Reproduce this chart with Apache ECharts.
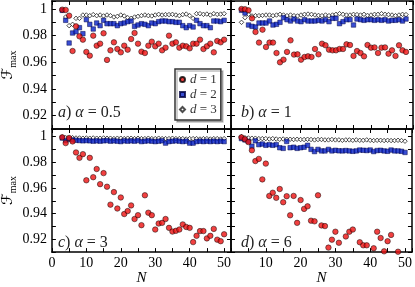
<!DOCTYPE html>
<html><head><meta charset="utf-8">
<script src="https://cdn.jsdelivr.net/npm/echarts@6/dist/echarts.min.js"></script>
<style>html,body{margin:0;padding:0;background:#fff}#c{width:415px;height:287px}</style>
</head><body><div id="c"></div>
<script>
// N values (system size)
const N = [3,4,5,6,7,8,9,10,11,12,13,14,15,16,17,18,19,20,21,22,23,24,25,26,27,28,29,30,31,32,33,34,35,36,37,38,39,40,41,42,43,44,45,46,47,48,49,50];

// panel a) alpha = 0.5
const aD1 = [0.9995,0.9993,0.995,0.9685,0.987,0.9795,0.977,0.9678,0.965,0.980,0.9725,0.974,0.9818,0.9618,0.969,0.975,0.970,0.9675,0.9725,0.9695,0.9775,0.982,0.974,0.968,0.967,0.9725,0.9755,0.972,0.974,0.969,0.971,0.980,0.974,0.975,0.971,0.9725,0.972,0.9705,0.974,0.974,0.977,0.970,0.972,0.974,0.9675,0.976,0.975,0.977];
const aD2 = [0.999,0.9915,0.9745,0.982,0.983,0.986,0.9815,0.992,0.9885,0.985,0.9895,0.9875,0.9915,0.989,0.989,0.989,0.9875,0.989,0.9895,0.9905,0.991,0.987,0.988,0.989,0.9885,0.9875,0.9895,0.989,0.9905,0.991,0.991,0.9905,0.9905,0.990,0.990,0.9875,0.986,0.9875,0.9865,0.9915,0.989,0.9875,0.9875,0.986,0.991,0.991,0.9905,0.9915];
const aD3 = [0.999,0.994,0.9875,0.9885,0.993,0.993,0.9955,0.9955,0.995,0.9958,0.995,0.9955,0.9948,0.9955,0.995,0.994,0.9945,0.9955,0.9948,0.9935,0.993,0.994,0.9945,0.995,0.9955,0.995,0.9948,0.9955,0.996,0.9955,0.9958,0.9958,0.996,0.9955,0.995,0.9958,0.9962,0.995,0.993,0.9965,0.9965,0.996,0.9962,0.9955,0.9965,0.996,0.9962,0.9965];

// panel b) alpha = 1
const bD1 = [1.0,0.9998,0.999,0.993,0.9828,0.9748,0.9845,0.9715,0.9748,0.9748,0.967,0.960,0.962,0.9678,0.9765,0.9658,0.966,0.962,0.964,0.9645,0.964,0.970,0.966,0.974,0.9728,0.9695,0.969,0.969,0.970,0.970,0.9735,0.973,0.9648,0.9685,0.967,0.9645,0.973,0.971,0.9712,0.967,0.971,0.9712,0.9665,0.969,0.9648,0.9728,0.969,0.9678];
const bD2 = [0.999,0.997,0.988,0.987,0.9865,0.9895,0.9895,0.9895,0.991,0.988,0.9885,0.990,0.9935,0.992,0.991,0.9925,0.991,0.9905,0.992,0.991,0.991,0.991,0.9915,0.991,0.992,0.9905,0.993,0.993,0.989,0.9905,0.992,0.992,0.988,0.9925,0.992,0.9915,0.992,0.992,0.9915,0.992,0.9915,0.992,0.991,0.9915,0.9915,0.992,0.991,0.9925];
const bD3 = [0.990,0.9935,0.996,0.9948,0.995,0.995,0.9952,0.9955,0.9955,0.995,0.9955,0.996,0.9955,0.995,0.9955,0.995,0.9948,0.9955,0.996,0.9962,0.996,0.9955,0.9952,0.995,0.9955,0.995,0.9955,0.996,0.9965,0.996,0.9955,0.9955,0.996,0.9958,0.9955,0.996,0.9952,0.9955,0.996,0.996,0.9965,0.996,0.9958,0.9955,0.995,0.9955,0.996,0.9958];

// panel c) alpha = 3
const cD1 = [0.9995,0.995,0.999,0.9963,0.9877,0.9835,0.9864,0.966,0.9835,0.9684,0.9748,0.963,0.9716,0.961,0.947,0.9568,0.944,0.9526,0.9397,0.942,0.9464,0.9358,0.9388,0.931,0.9543,0.9407,0.9388,0.9276,0.9323,0.9328,0.9358,0.9289,0.926,0.9266,0.9276,0.9316,0.9296,0.9289,0.9178,0.9227,0.9264,0.9264,0.9207,0.9227,0.9281,0.9197,0.9185,0.9239];
const cD2 = [0.999,0.997,0.998,0.9975,0.9972,0.997,0.9968,0.997,0.9968,0.9965,0.9968,0.9965,0.9968,0.997,0.9965,0.9968,0.9965,0.9962,0.9968,0.9965,0.9968,0.9965,0.997,0.9962,0.9965,0.9968,0.9965,0.9962,0.9965,0.9968,0.995,0.9962,0.9965,0.9968,0.9965,0.9962,0.9965,0.995,0.995,0.9962,0.9965,0.9962,0.9965,0.9962,0.9965,0.9962,0.9965,0.9962];
const cD3 = [0.9998,0.9992,0.999,0.9992,0.999,0.999,0.9988,0.999,0.9988,0.999,0.9988,0.9988,0.999,0.9988,0.9988,0.9985,0.9988,0.9988,0.9985,0.9988,0.9988,0.9985,0.9988,0.9985,0.9985,0.9988,0.9985,0.9985,0.9988,0.9985,0.9985,0.9985,0.9988,0.9985,0.9985,0.9985,0.9982,0.9985,0.9985,0.9985,0.9982,0.9985,0.9985,0.9982,0.9985,0.9985,0.9982,0.9985];

// panel d) alpha = 6 (null = below the visible range)
const dD1 = [0.9995,0.998,0.9958,0.9894,0.981,0.9827,0.9667,0.979,0.9538,0.9563,0.9523,0.9592,0.9489,0.9536,0.9387,0.9538,0.9328,0.9506,0.9437,0.9457,0.9345,0.934,0.9543,0.9308,0.9303,0.9135,0.9197,0.9259,0.9173,null,0.9222,0.9259,0.9276,null,0.9177,0.9153,0.9153,null,0.913,0.9259,0.921,0.9106,0.9185,0.9234,null,0.9103,null,null];
const dD2 = [0.9985,0.9975,0.9963,0.9926,0.9968,0.9938,0.9943,0.9933,0.9938,0.9933,0.9938,0.9914,0.9909,0.9963,0.9914,0.9918,0.9909,0.9914,0.9918,0.9933,0.9901,0.9884,0.9901,0.9889,0.9889,0.9901,0.9889,0.9894,0.989,0.9889,0.9892,0.9889,0.9886,0.9889,0.9896,0.9894,0.9892,0.9896,0.9884,0.9892,0.9894,0.9889,0.9886,0.9896,0.9889,0.9889,0.9886,0.9877];
const dD3 = [1.0,0.9992,0.999,0.9988,0.9988,0.9985,0.9985,0.9985,0.9982,0.9985,0.9982,0.998,0.9982,0.998,0.998,0.9978,0.998,0.9978,0.9978,0.998,0.9978,0.9975,0.9978,0.9978,0.9975,0.9975,0.9978,0.9975,0.9975,0.9972,0.9975,0.9975,0.9972,0.9975,0.9972,0.9972,0.9975,0.9972,0.997,0.9972,0.9972,0.997,0.9972,0.997,0.997,0.9972,0.997,0.9965];

const xTickLabels = [0,10,20,30,40,50];
const yTickLabels = [0.92,0.94,0.96,0.98,1];
const panelLetters = ['a','b','c','d'];
const panelAlphas = ['0.5','1','3','6'];
const seriesNames = ['d = 1','d = 2','d = 3'];
const panelData = [[aD1,aD2,aD3],[bD1,bD2,bD3],[cD1,cD2,cD3],[dD1,dD2,dD3]];

const SERIF = 'Liberation Serif, Times New Roman, serif';
const grids = [
  {left:49, top:1, width:182, height:128},
  {left:231, top:1, width:182, height:128},
  {left:49, top:129, width:182, height:130},
  {left:231, top:129, width:182, height:130}
];
const lineStyle = {color:'#000', width:1.5};
const xAxes = [], yAxes = [], series = [];
grids.forEach((g, i) => {
  const isBottom = i >= 2, isLeft = i % 2 === 0;
  const xBase = {type:'value', gridIndex:i, min:0, max:52, interval:5,
    axisLine:{show:true, onZero:false, lineStyle},
    axisTick:{show:true, inside:true, length:4, lineStyle:{color:'#000', width:1}},
    splitLine:{show:false}};
  xAxes.push(Object.assign({}, xBase, {position:'bottom',
    axisLabel:{show:isBottom, margin:4, color:'#000', fontFamily:SERIF, fontSize:14,
      formatter: v => (xTickLabels.indexOf(v) >= 0 && !(v === 0 && !isLeft)) ? String(v) : ''},
    name: isBottom ? 'N' : '', nameLocation:'middle', nameGap:15,
    nameTextStyle:{fontFamily:SERIF, fontStyle:'italic', fontSize:15, color:'#000'}}));
  xAxes.push(Object.assign({}, xBase, {position:'top', axisLabel:{show:false}}));
  const yBase = {type:'value', gridIndex:i, min:0.91, max:1.006, interval:0.01,
    axisLine:{show:true, onZero:false, lineStyle},
    axisTick:{show:true, inside:true, length:4, lineStyle:{color:'#000', width:1}},
    splitLine:{show:false}};
  yAxes.push(Object.assign({}, yBase, {position:'left',
    axisLabel:{show:isLeft, margin:5, color:'#000', fontFamily:SERIF, fontSize:14,
      formatter: v => {
        const t = yTickLabels.find(t => Math.abs(t - v) < 1e-6);
        return t === undefined ? '' : (t === 1 ? '1' : t.toFixed(2));
      }},
    name: isLeft ? '{f|ℱ}{s|max}' : '', nameLocation:'middle', nameGap:31, nameRotate:90,
    nameTextStyle:{rich:{
      f:{fontFamily:'DejaVu Serif, DejaVu Sans, serif', fontStyle:'italic', fontSize:15, color:'#000', lineHeight:20, verticalAlign:'middle'},
      s:{fontFamily:SERIF, fontSize:10, color:'#000', lineHeight:10, verticalAlign:'bottom'}
    }}}));
  yAxes.push(Object.assign({}, yBase, {position:'right', axisLabel:{show:false}}));
  const styles = [
    {symbol:'circle', symbolSize:5.5, itemStyle:{color:'#ee1010', borderColor:'#000', borderWidth:0.6}, z:5},
    {symbol:'rect', symbolSize:4.5, itemStyle:{color:'#0822c8', borderColor:'#000040', borderWidth:0.6}, z:4},
    {symbol:'diamond', symbolSize:4.5, itemStyle:{color:'#fff', borderColor:'#222', borderWidth:1}, z:3}
  ];
  panelData[i].forEach((vals, k) => {
    const data = [];
    vals.forEach((v, j) => { if (v !== null) data.push([N[j], v]); });
    series.push(Object.assign({type:'scatter', name:seriesNames[k], xAxisIndex:2*i, yAxisIndex:2*i,
      data, clip:true, silent:true}, styles[k]));
  });
});

const labelPos = [[58,113],[241,113],[58,243],[241,243]];
const graphics = labelPos.map((p, i) => ({
  type:'text', x:p[0], y:p[1], z:10,
  style:{text:'{i|' + panelLetters[i] + '}) {i|α} = ' + panelAlphas[i],
    fontFamily:SERIF, fontSize:16, fill:'#222', verticalAlign:'middle', align:'left',
    rich:{i:{fontFamily:SERIF, fontStyle:'italic', fontSize:16, fill:'#222'}}}
}));

const chart = echarts.init(document.getElementById('c'), null, {renderer:'canvas'});
chart.setOption({
  animation:false,
  backgroundColor:'#fff',
  grid:grids,
  xAxis:xAxes,
  yAxis:yAxes,
  series,
  legend:{data:seriesNames, orient:'vertical', left:175, top:69, z:10,
    backgroundColor:'#fff', borderColor:'#333', borderWidth:1.5, borderRadius:0,
    padding:[4,4,4,4], itemGap:2, itemWidth:5, itemHeight:5, selectedMode:false,
    shadowColor:'rgba(0,0,0,0.25)', shadowOffsetX:2, shadowOffsetY:2, shadowBlur:0,
    formatter: n => '{i|d}' + n.slice(1),
    textStyle:{fontFamily:SERIF, fontSize:13, color:'#333', lineHeight:13,
      rich:{i:{fontFamily:SERIF, fontStyle:'italic', fontSize:13, color:'#333'}}}},
  graphic:graphics
});
</script></body></html>
